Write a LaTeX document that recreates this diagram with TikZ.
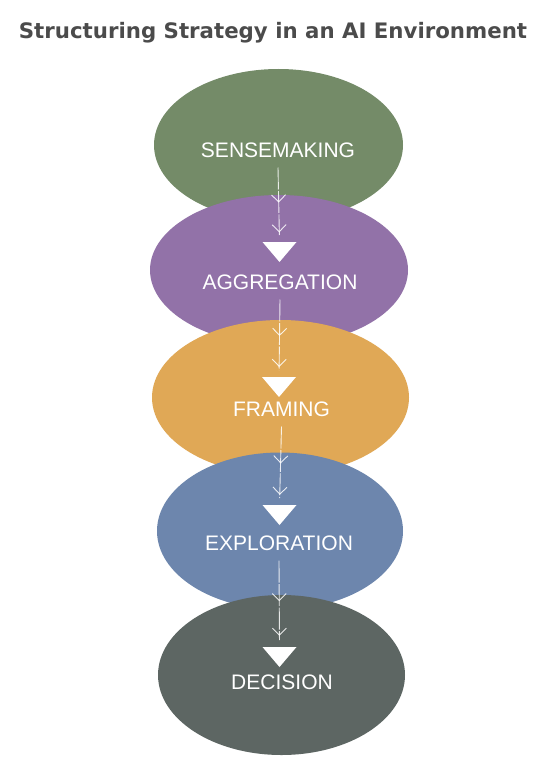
\documentclass[tikz,border=0pt]{standalone}
\usepackage{fontspec}
\setmainfont{Liberation Sans}
\newfontfamily\titlefont{DejaVu Sans}
\usetikzlibrary{arrows.meta,decorations.markings,shapes.geometric}
\definecolor{senseC}{HTML}{748B68}
\definecolor{aggrC}{HTML}{9272A8}
\definecolor{framC}{HTML}{E0A856}
\definecolor{explC}{HTML}{6D86AD}
\definecolor{deciC}{HTML}{5D6663}
\definecolor{titleC}{HTML}{4B4B4B}
\tikzset{
  stage/.style={ellipse,inner sep=0pt},
  label/.style={text=white,inner sep=0pt,outer sep=0pt,text height=15pt,text depth=0pt,font=\fontsize{21}{21}\selectfont},
  flow/.style={white,opacity=.85,line width=.9pt,dash pattern=on 22pt off 1.5pt,
    postaction={decorate,decoration={markings,
      mark=at position .47 with {\arrow[solid]{Straight Barb[length=7pt,width=14pt]}},
      mark=at position .87 with {\arrow[solid]{Straight Barb[length=7pt,width=14pt]}}}}},
}
\begin{document}
\begin{tikzpicture}[x=1pt,y=-1pt]
  \useasboundingbox[fill=white] (0,0) rectangle (543,768);
  \node[text=titleC,font=\titlefont\bfseries\fontsize{21.3}{21.3}\selectfont] (title) at (273,33) {Structuring Strategy in an AI Environment};
  % the five stages, each one covering the one above
  \node[stage,fill=senseC,minimum width=249pt,minimum height=152pt] (sense) at (278.5,145) {};
  \node[stage,fill=aggrC,minimum width=258pt,minimum height=150pt] (aggr) at (279,270) {};
  \node[stage,fill=framC,minimum width=257pt,minimum height=155pt] (fram) at (280.5,397.5) {};
  \node[stage,fill=explC,minimum width=246pt,minimum height=157pt] (expl) at (280,531) {};
  \node[stage,fill=deciC,minimum width=247pt,minimum height=160pt] (deci) at (281.5,675) {};
  \node[label] (senseT) at (278,150) {SENSEMAKING};
  \node[label] (aggrT) at (280,282) {AGGREGATION};
  \node[label] (framT) at (281.5,409) {FRAMING};
  \node[label] (explT) at (279,543) {EXPLORATION};
  \node[label] (deciT) at (282,682) {DECISION};
  % triangles, named by their top edge
  \coordinate (triA) at (279.5,242);
  \coordinate (triF) at (279,377);
  \coordinate (triE) at (279.5,505);
  \coordinate (triD) at (279.5,647);
  \foreach \t in {triA,triF,triE,triD}
    \fill[white] (\t) ++(-17,0) -- ++(34,0) -- ++(-17,20) -- cycle;
  \draw[flow,shorten >=7pt] ([yshift=-10pt]senseT.south) -- (triA);
  \draw[flow,shorten >=7pt] ([yshift=-10pt]aggrT.south) -- (triF);
  \draw[flow,shorten >=7pt] ([yshift=-10pt]framT.south) -- (triE);
  \draw[flow,shorten >=7pt] ([yshift=-10pt]explT.south) -- (triD);
\end{tikzpicture}
\end{document}
